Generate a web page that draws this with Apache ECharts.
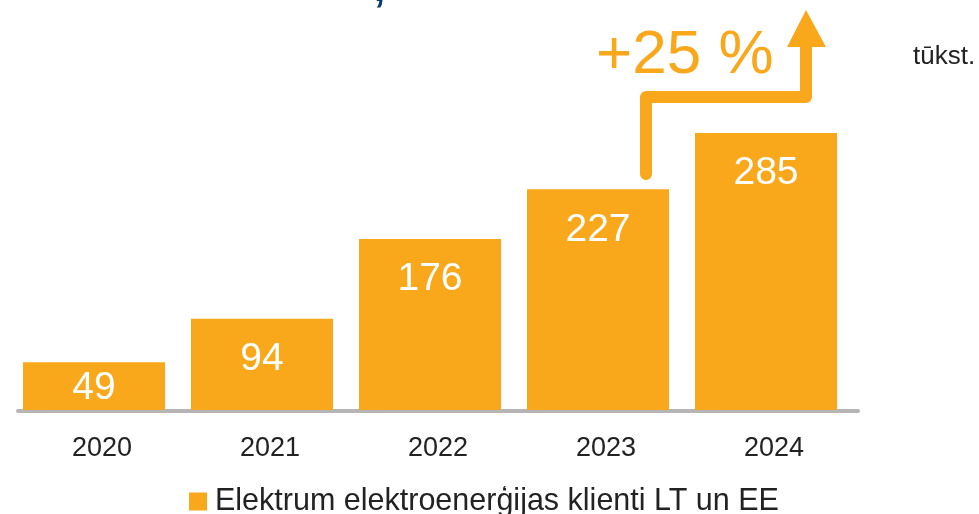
<!DOCTYPE html>
<html>
<head>
<meta charset="utf-8">
<script src="https://cdn.jsdelivr.net/npm/echarts@6/dist/echarts.min.js"></script>
<style>
  html, body { margin: 0; padding: 0; background: #fff; }
  #clientsChart { width: 979px; height: 514px; }
</style>
</head>
<body>
<div id="clientsChart"></div>
<script>
// dati
var years = ['2020', '2021', '2022', '2023', '2024'];
var clients = [49, 94, 176, 227, 285];
var seriesName = 'Elektrum elektroenerģijas klienti LT un EE';
var unitText = 'tūkst.';
var growthText = '+25 %';

var orange = '#F9A81C';
var font = 'Liberation Sans';

var chart = echarts.init(document.getElementById('clientsChart'));

// mazajam stabiņam etiķete centrā, pārējiem pie augšas
var barData = clients.map(function (v, i) {
    if (i === 0) {
        return { value: v, label: { position: 'inside', offset: [0, 2] } };
    }
    return v;
});

chart.setOption({
    animation: false,
    textStyle: { fontFamily: font },
    grid: [
        { left: 10, width: 840, top: 21.2, bottom: 104 },   // stabiņi
        { left: 18, width: 840, top: 22.2, bottom: 103 }    // ass un gadi
    ],
    xAxis: [
        { type: 'category', gridIndex: 0, data: years, show: false },
        {
            type: 'category', gridIndex: 1, data: years,
            axisLine: { lineStyle: { color: '#B5B5B5', width: 4 } },
            axisTick: { show: false },
            axisLabel: { color: '#222', fontSize: 27, margin: 24, fontFamily: font }
        }
    ],
    yAxis: [
        { type: 'value', gridIndex: 0, min: 0, max: 400, show: false },
        { type: 'value', gridIndex: 1, min: 0, max: 400, show: false }
    ],
    legend: {
        left: 184, top: 481,
        icon: 'rect', itemWidth: 18, itemHeight: 18, itemGap: 0,
        textStyle: { color: '#222', fontSize: 30.5, fontFamily: font, padding: [0, 0, 0, 3] },
        data: [seriesName]
    },
    series: [{
        name: seriesName,
        type: 'bar',
        xAxisIndex: 0, yAxisIndex: 0,
        barWidth: 142,
        itemStyle: { color: orange },
        label: {
            show: true,
            position: 'insideTop',
            distance: 21,
            color: '#fff',
            fontSize: 39,
            fontFamily: font
        },
        data: barData
    }],
    graphic: [
        {   // bulta
            type: 'polyline',
            shape: { points: [[646, 174], [646, 97], [806, 97], [806, 44]] },
            style: { stroke: orange, lineWidth: 12, fill: null, lineCap: 'round', lineJoin: 'round' }
        },
        {
            type: 'polygon',
            shape: { points: [[787, 47], [806, 10], [826, 47]] },
            style: { fill: orange }
        },
        {
            type: 'text', left: 596, top: 25,
            style: { text: growthText, fill: orange, fontSize: 62, fontFamily: font }
        },
        {
            type: 'text', left: 913, top: 44,
            style: { text: unitText, fill: '#222', fontSize: 26, fontFamily: font }
        },
        {   // nogriezts virsraksts
            type: 'text', left: 374, top: -30,
            style: { text: ',', fill: '#0B3A6E', fontSize: 40, fontWeight: 'bold', fontFamily: font }
        }
    ]
});
</script>
</body>
</html>
